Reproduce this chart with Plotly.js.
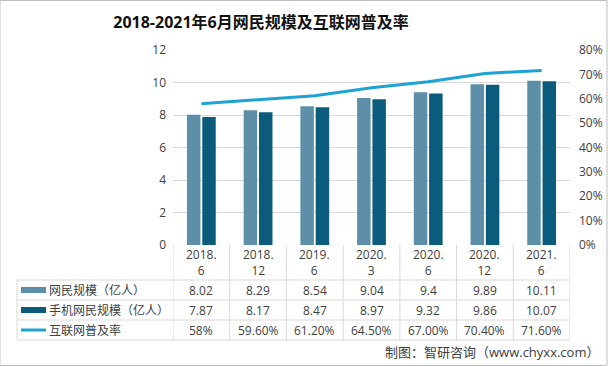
<!DOCTYPE html>
<html><head><meta charset="utf-8">
<script src="https://cdn.plot.ly/plotly-3.0.1.min.js"></script>
<style>html,body{margin:0;padding:0;background:#fff}#c{width:608px;height:366px}</style>
</head><body><div id="c"></div>
<script>
const categories = ['2018.<br>6','2018.<br>12','2019.<br>6','2020.<br>3','2020.<br>6','2020.<br>12','2021.<br>6'];
const netizens = [8.02, 8.29, 8.54, 9.04, 9.4, 9.89, 10.11];
const mobile = [7.87, 8.17, 8.47, 8.97, 9.32, 9.86, 10.07];
const rate = [0.58, 0.596, 0.612, 0.645, 0.67, 0.704, 0.716];
const netizensText = ['8.02','8.29','8.54','9.04','9.4','9.89','10.11'];
const mobileText = ['7.87','8.17','8.47','8.97','9.32','9.86','10.07'];
const rateText = ['58%','59.60%','61.20%','64.50%','67.00%','70.40%','71.60%'];
const seriesNames = ['网民规模（亿人）','手机网民规模（亿人）','互联网普及率'];
const colors = ['#5e8fa9','#0b5b7d','#1ca3d4'];

const FONT = '"Open Sans","Noto Sans CJK SC",sans-serif';
const idx = categories.map((_, i) => i);
const traces = [
  {type:'bar', x:idx, y:netizens, name:seriesNames[0], marker:{color:colors[0]}, hoverinfo:'none'},
  {type:'bar', x:idx, y:mobile, name:seriesNames[1], marker:{color:colors[1]}, hoverinfo:'none'},
  {type:'scatter', mode:'lines', x:idx, y:rate, yaxis:'y2', name:seriesNames[2], line:{color:colors[2], width:3}, hoverinfo:'none'}
];

const py = p => (245 - p) / 195;
const shapes = [];
const annotations = [];
const lineCol = '#d9d9d9';
for (let i = 0; i <= categories.length; i++) {
  shapes.push({type:'line', xref:'x', yref:'paper', x0:i-0.5, x1:i-0.5, y0:py(245), y1:py(340), line:{color:lineCol, width:1}});
}
[280,300,320,340].forEach(p => {
  shapes.push({type:'line', xref:'paper', yref:'paper', x0:(17-173)/397, x1:1, y0:py(p), y1:py(p), line:{color:lineCol, width:1}});
});
shapes.push({type:'line', xref:'paper', yref:'paper', x0:(17-173)/397, x1:(17-173)/397, y0:py(280), y1:py(340), line:{color:lineCol, width:1}});
shapes.push({type:'rect', xref:'paper', yref:'paper', x0:-173/397, x1:(607-173)/397, y0:py(365.5), y1:py(0.5), line:{color:'#bfbfbf', width:1}});

categories.forEach((c, i) => {
  annotations.push({xref:'x', yref:'paper', x:i, y:py(262), text:c, showarrow:false, font:{family:FONT, size:12, color:'#404040'}, yanchor:'middle'});
});
const rows = [netizensText, mobileText, rateText];
rows.forEach((r, k) => {
  const yc = py(290 + 20*k);
  r.forEach((t, i) => {
    annotations.push({xref:'x', yref:'paper', x:i, y:yc, text:t, showarrow:false, font:{family:FONT, size:12, color:'#404040'}, yanchor:'middle'});
  });
  annotations.push({xref:'paper', yref:'paper', x:(47-173)/397, y:yc, text:seriesNames[k], showarrow:false, xanchor:'left', yanchor:'middle', font:{family:FONT, size:12, color:'#404040'}});
  if (k < 2) {
    shapes.push({type:'rect', xref:'paper', yref:'paper', x0:(21-173)/397, x1:(46-173)/397, y0:py(293+20*k), y1:py(287+20*k), fillcolor:colors[k], line:{width:0}});
  } else {
    shapes.push({type:'line', xref:'paper', yref:'paper', x0:(21-173)/397, x1:(46-173)/397, y0:yc, y1:yc, line:{color:colors[k], width:3}});
  }
});
annotations.push({xref:'paper', yref:'paper', x:(601-173)/397, y:py(352), text:'制图：智研咨询（www.chyxx.com）', showarrow:false, xanchor:'right', yanchor:'middle', font:{family:FONT, size:13, color:'#404040'}});

const layout = {
  width:608, height:366,
  margin:{l:173, r:38, t:50, b:121},
  paper_bgcolor:'#fff', plot_bgcolor:'#fff',
  title:{text:'<b>2018-2021年6月网民规模及互联网普及率</b>', x:261/608, xref:'container', xanchor:'center', y:1-22/366, yanchor:'middle', font:{family:FONT, size:16, color:'#111'}},
  showlegend:false,
  barmode:'group', bargap:0.46, bargroupgap:0.12,
  xaxis:{range:[-0.5, 6.5], showticklabels:false, showgrid:false, zeroline:false, showline:false, ticks:''},
  yaxis:{range:[0,12], dtick:2, showgrid:true, gridcolor:'#d9d9d9', gridwidth:1, zeroline:false, showline:false, ticks:'', tickfont:{family:FONT, size:12, color:'#404040'}, ticklabelstandoff:6},
  yaxis2:{range:[0,0.8], dtick:0.1, tickformat:'.0%', overlaying:'y', side:'right', showgrid:false, zeroline:false, showline:false, ticks:'', tickfont:{family:FONT, size:12, color:'#404040'}, ticklabelstandoff:8},
  shapes:shapes, annotations:annotations
};
Plotly.newPlot('c', traces, layout, {staticPlot:true, displayModeBar:false});
</script></body></html>
